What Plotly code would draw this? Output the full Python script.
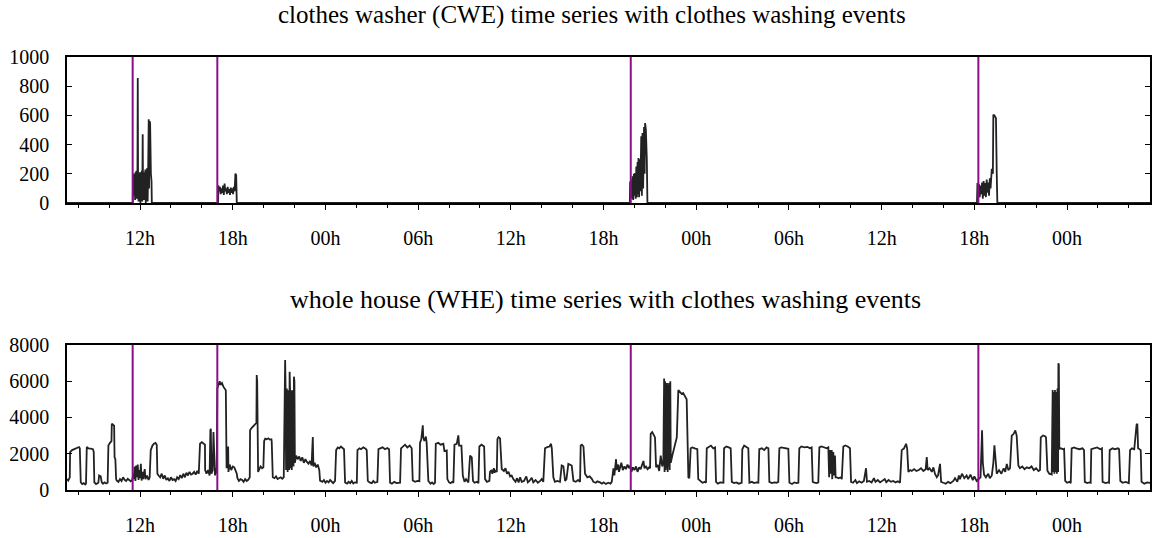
import pandas as pd
import plotly.graph_objects as go
from plotly.subplots import make_subplots

# Hours are counted from midnight of the first day shown.
START = pd.Timestamp("2012-04-01")

# clothes washing event start times (hours)
event_hours = [11.52, 17.0, 43.76, 66.26]

# clothes washer power (W): (hour, watts)
cwe_run1 = [
    (7.27, 0), (11.50, 0), (11.53, 0), (11.54, 200), (11.57, 180), (11.60, 50),
    (11.62, 200), (11.65, 190), (11.68, 20), (11.70, 210), (11.73, 60), (11.76, 220),
    (11.80, 30), (11.83, 200), (11.85, 856), (11.87, 150), (11.90, 10), (11.93, 200),
    (11.96, 40), (11.99, 210), (12.02, 0), (12.05, 190), (12.08, 50), (12.11, 220),
    (12.14, 10), (12.17, 470), (12.19, 100), (12.22, 200), (12.25, 20), (12.28, 210),
    (12.31, 40), (12.34, 230), (12.37, 0), (12.40, 220), (12.43, 30), (12.46, 240),
    (12.49, 10), (12.52, 200), (12.56, 574), (12.58, 100), (12.62, 560), (12.65, 546),
    (12.70, 200), (12.74, 150), (12.76, 0),
]
cwe_run2 = [
    (17.05, 0), (17.07, 120), (17.12, 80), (17.17, 110), (17.22, 60), (17.27, 100),
    (17.32, 70), (17.37, 120), (17.42, 55), (17.47, 133), (17.52, 80), (17.57, 100),
    (17.62, 60), (17.67, 110), (17.72, 70), (17.77, 95), (17.82, 55), (17.87, 105),
    (17.92, 70), (17.97, 100), (18.02, 60), (18.07, 110), (18.12, 80), (18.17, 202),
    (18.22, 190), (18.26, 0),
]
cwe_run3 = [
    (43.70, 0), (43.72, 148), (43.76, 40), (43.80, 160), (43.84, 30), (43.88, 183),
    (43.92, 20), (43.96, 200), (44.00, 50), (44.04, 205), (44.08, 30), (44.12, 250),
    (44.16, 40), (44.20, 280), (44.24, 60), (44.26, 308), (44.30, 40), (44.34, 300),
    (44.38, 80), (44.44, 457), (44.48, 50), (44.52, 479), (44.56, 100), (44.62, 520),
    (44.66, 200), (44.69, 548), (44.74, 500), (44.80, 300), (44.84, 0),
]
cwe_run4 = [
    (66.17, 0), (66.20, 137), (66.25, 100), (66.30, 130), (66.35, 40), (66.40, 120),
    (66.45, 60), (66.50, 140), (66.55, 30), (66.60, 150), (66.65, 50), (66.70, 137),
    (66.75, 40), (66.80, 160), (66.85, 70), (66.90, 140), (66.95, 50), (67.00, 170),
    (67.05, 100), (67.13, 235), (67.20, 200), (67.23, 605), (67.30, 600), (67.40, 580),
    (67.45, 200), (67.49, 0), (77.37, 0),
]

# whole house power (W): (hour, watts)
whe_day1 = [
    (7.27, 600), (7.35, 520), (7.45, 700), (7.47, 2090), (7.60, 2200), (7.75, 2250),
    (7.90, 2300), (8.05, 2370), (8.10, 2300), (8.16, 430), (8.25, 330), (8.35, 380),
    (8.45, 300), (8.50, 350), (8.55, 2370), (8.65, 2300), (8.80, 2280), (8.95, 2250),
    (9.00, 2100), (9.04, 420), (9.15, 330), (9.25, 380), (9.30, 400), (9.35, 800),
    (9.45, 750), (9.52, 420), (9.60, 350), (9.70, 420), (9.80, 360), (9.90, 400),
    (9.95, 2450), (10.05, 2600), (10.15, 2700), (10.17, 3660), (10.25, 3600), (10.32, 3550),
    (10.35, 1800), (10.40, 1700), (10.45, 600), (10.49, 520), (10.60, 450), (10.70, 600),
    (10.80, 500), (10.90, 700), (11.00, 560), (11.10, 500), (11.20, 620), (11.30, 540),
    (11.40, 480), (11.50, 560), (11.55, 900), (11.60, 600), (11.65, 1300), (11.70, 500),
    (11.75, 1350), (11.80, 700), (11.85, 1400), (11.90, 550), (11.95, 1100), (12.00, 650),
    (12.05, 1450), (12.10, 520), (12.15, 1000), (12.20, 600), (12.30, 1150), (12.35, 600),
    (12.45, 800), (12.55, 550), (12.62, 700), (12.69, 2200), (12.80, 2450), (12.90, 2550),
    (13.00, 2600), (13.08, 2500), (13.12, 900), (13.20, 800), (13.30, 700), (13.40, 900),
    (13.50, 620), (13.60, 800), (13.70, 550), (13.80, 650), (13.90, 500), (14.00, 700),
    (14.10, 550), (14.20, 600), (14.30, 500), (14.40, 700), (14.50, 600), (14.60, 820),
    (14.70, 650), (14.80, 900), (14.90, 700), (15.00, 950), (15.10, 800), (15.20, 1000),
    (15.30, 850), (15.40, 900), (15.50, 1000), (15.60, 850), (15.70, 1050), (15.80, 900),
    (15.88, 2550), (16.00, 2640), (16.10, 2550), (16.20, 2500), (16.21, 1100), (16.30, 900),
    (16.40, 1100), (16.50, 800), (16.55, 3300), (16.58, 3380), (16.62, 900), (16.70, 1100),
    (16.75, 3200), (16.80, 1000), (16.85, 800), (16.90, 1200), (16.96, 900), (17.00, 5600),
    (17.10, 5900), (17.15, 6000), (17.20, 5800), (17.30, 5900), (17.39, 5700), (17.50, 5550),
    (17.55, 5500), (17.60, 1200), (17.65, 1800), (17.70, 2400), (17.72, 1000), (17.80, 1400),
    (17.90, 1100), (18.00, 1300), (18.10, 1250), (18.20, 1050), (18.26, 900), (18.30, 650),
    (18.40, 500), (18.50, 600), (18.60, 550), (18.70, 450), (18.80, 600), (18.90, 500),
    (19.00, 560), (19.10, 700), (19.12, 3300), (19.20, 3400), (19.30, 3500), (19.44, 3600),
    (19.53, 3700), (19.55, 6340), (19.58, 6000), (19.64, 1000), (19.70, 1150), (19.80, 1300),
    (19.90, 1200), (19.98, 1250), (20.03, 2700), (20.10, 2830), (20.20, 2800), (20.30, 2850),
    (20.40, 2780), (20.50, 2800), (20.52, 2700), (20.59, 700), (20.70, 650), (20.80, 750),
    (20.90, 600), (21.00, 650), (21.10, 700), (21.20, 620), (21.30, 700), (21.39, 7170),
    (21.42, 5500), (21.45, 1100), (21.48, 5500), (21.50, 5600), (21.55, 1000), (21.58, 5500),
    (21.62, 5400), (21.65, 1100), (21.68, 6520), (21.71, 5500), (21.74, 1200), (21.78, 5500),
    (21.82, 1100), (21.85, 5500), (21.90, 5400), (21.93, 1300), (21.96, 6250), (21.99, 6000),
    (22.02, 1500), (22.10, 1900), (22.20, 1700), (22.30, 1850), (22.40, 1600), (22.50, 1800),
    (22.60, 1500), (22.70, 1700), (22.80, 1550), (22.90, 1450), (23.00, 1600), (23.10, 1350),
    (23.18, 2920), (23.22, 1300), (23.30, 1500), (23.40, 1250), (23.50, 1400), (23.60, 1100),
    (23.65, 520), (23.80, 450), (23.90, 550),
]
whe_day2 = [
    (24.00, 400), (24.10, 500), (24.20, 420), (24.30, 550), (24.40, 450), (24.50, 380),
    (24.62, 500), (24.69, 2200), (24.80, 2350), (24.90, 2300), (25.00, 2400), (25.10, 2300),
    (25.20, 2250), (25.27, 420), (25.40, 350), (25.50, 450), (25.60, 380), (25.70, 500),
    (25.80, 360), (25.90, 420), (26.03, 400), (26.07, 2200), (26.20, 2300), (26.30, 2250),
    (26.45, 2350), (26.60, 2280), (26.67, 2200), (26.74, 500), (26.85, 420), (27.00, 380),
    (27.10, 500), (27.20, 400), (27.36, 450), (27.43, 2250), (27.55, 2300), (27.70, 2350),
    (27.85, 2250), (28.00, 2320), (28.12, 2250), (28.18, 400), (28.30, 350), (28.45, 450),
    (28.60, 380), (28.75, 420), (28.83, 400), (28.89, 2300), (29.00, 2400), (29.15, 2500),
    (29.30, 2350), (29.45, 2450), (29.58, 2300), (29.65, 520), (29.80, 450), (29.95, 500),
    (30.08, 480), (30.12, 2600), (30.20, 2800), (30.30, 3570), (30.33, 2900), (30.40, 2700),
    (30.50, 2950), (30.55, 2600), (30.66, 500), (30.80, 350), (30.90, 420), (31.00, 330),
    (31.09, 400), (31.14, 2550), (31.30, 2600), (31.45, 2500), (31.63, 2550), (31.70, 2150),
    (31.85, 2180), (31.89, 600), (32.00, 420), (32.10, 380), (32.20, 450), (32.28, 400),
    (32.35, 2500), (32.50, 2550), (32.60, 3010), (32.65, 2450), (32.80, 2450), (32.89, 800),
    (33.00, 450), (33.10, 600), (33.25, 420), (33.30, 1500), (33.36, 1900), (33.47, 1800),
    (33.55, 500), (33.65, 400), (33.80, 450), (33.90, 380), (33.96, 2400), (34.10, 2500),
    (34.20, 2450), (34.27, 2400), (34.33, 600), (34.45, 450), (34.61, 500), (34.65, 1000),
    (34.75, 1100), (34.80, 900), (34.90, 1200), (34.95, 950), (35.00, 1100), (35.09, 1000),
    (35.13, 2800), (35.20, 2920), (35.30, 2850), (35.41, 1160), (35.55, 1050), (35.65, 1200),
    (35.75, 900), (35.85, 1000), (35.95, 750), (36.05, 800), (36.16, 600), (36.30, 450),
    (36.40, 650), (36.50, 420), (36.60, 700), (36.70, 450), (36.85, 500), (37.00, 750),
    (37.10, 420), (37.20, 500), (37.35, 680), (37.45, 420), (37.60, 550), (37.75, 400),
    (37.90, 500), (38.00, 600), (38.10, 450), (38.21, 2300), (38.35, 2365), (38.50, 2400),
    (38.60, 2550), (38.65, 2300), (38.75, 700), (38.85, 450), (39.00, 500), (39.18, 450),
    (39.29, 1350), (39.40, 1300), (39.51, 500), (39.60, 600), (39.72, 1440), (39.85, 1400),
    (39.94, 1350), (40.05, 500), (40.20, 450), (40.35, 550), (40.48, 450), (40.52, 2460),
    (40.60, 2500), (40.70, 2400), (40.80, 900), (40.95, 700), (41.10, 750), (41.25, 600),
    (41.34, 450), (41.50, 400), (41.60, 480), (41.77, 420), (41.90, 350), (42.00, 420),
    (42.15, 330), (42.30, 400), (42.45, 350), (42.53, 450), (42.60, 900), (42.64, 1200),
    (42.70, 800), (42.81, 1700), (42.85, 1100), (42.95, 1400), (43.00, 1000), (43.07, 1250),
    (43.15, 1500), (43.25, 1100), (43.35, 1300), (43.45, 1150), (43.55, 1400), (43.65, 1200),
    (43.72, 1350), (43.80, 1000), (43.90, 1250), (44.00, 1100), (44.10, 1300), (44.20, 1000),
    (44.30, 1250), (44.40, 1150), (44.50, 1350), (44.58, 1600), (44.65, 1200), (44.75, 1300),
    (44.85, 1150), (44.95, 1250), (45.01, 1200), (45.05, 3100), (45.15, 3200), (45.25, 3000),
    (45.33, 2900), (45.40, 1250), (45.50, 1400), (45.60, 1050), (45.70, 1900), (45.80, 1300),
    (45.87, 1500), (45.92, 6150), (45.95, 1000), (45.98, 6000), (46.02, 1100), (46.05, 5900),
    (46.09, 1200), (46.12, 5900), (46.15, 1000), (46.18, 5800), (46.22, 1300), (46.25, 5900),
    (46.28, 1100), (46.32, 6000), (46.35, 1500), (46.45, 1900), (46.55, 2300), (46.65, 2600),
    (46.74, 2900), (46.84, 5510), (46.95, 5400), (47.05, 5300), (47.15, 5350), (47.25, 5200),
    (47.38, 5000), (47.49, 700), (47.55, 650), (47.64, 2300), (47.75, 2350), (47.90, 2300),
]
whe_day3 = [
    (48.07, 2250), (48.13, 600), (48.25, 500), (48.40, 400), (48.55, 450), (48.63, 400),
    (48.68, 2300), (48.80, 2350), (48.95, 2450), (49.10, 2300), (49.22, 2350), (49.28, 450),
    (49.40, 350), (49.55, 420), (49.70, 380), (49.76, 400), (49.80, 2300), (49.95, 2400),
    (50.10, 2350), (50.23, 2300), (50.30, 450), (50.45, 380), (50.60, 420), (50.75, 350),
    (50.94, 400), (50.98, 2250), (51.10, 2450), (51.25, 2350), (51.37, 2300), (51.44, 400),
    (51.60, 450), (51.75, 380), (51.90, 420), (52.02, 400), (52.08, 2250), (52.25, 2300),
    (52.40, 2200), (52.55, 2350), (52.67, 2300), (52.73, 450), (52.90, 380), (53.05, 420),
    (53.20, 400), (53.31, 450), (53.38, 2300), (53.50, 2350), (53.70, 2300), (53.90, 2250),
    (53.96, 2270), (54.03, 400), (54.20, 330), (54.35, 420), (54.50, 380), (54.61, 400),
    (54.67, 2300), (54.80, 2400), (55.00, 2350), (55.20, 2380), (55.35, 2300), (55.47, 2350),
    (55.54, 450), (55.65, 400), (55.80, 380), (55.90, 420), (55.97, 2350), (56.10, 2400),
    (56.30, 2350), (56.45, 2300), (56.55, 2350), (56.60, 700), (56.66, 2200), (56.70, 900),
    (56.77, 2200), (56.80, 600), (56.87, 2100), (56.92, 800), (56.98, 1900), (57.02, 700),
    (57.09, 700), (57.20, 650), (57.35, 700), (57.42, 600), (57.52, 2400), (57.65, 2460),
    (57.80, 2400), (57.95, 2300), (58.02, 450), (58.15, 400), (58.30, 550), (58.40, 380),
    (58.55, 480), (58.70, 400), (58.85, 500), (58.99, 1200), (59.05, 450), (59.20, 500),
    (59.35, 420), (59.50, 650), (59.60, 450), (59.75, 550), (59.90, 420), (60.05, 500),
    (60.20, 600), (60.30, 430), (60.45, 550), (60.60, 450), (60.75, 500), (60.90, 420),
    (61.05, 480), (61.19, 400), (61.30, 2200), (61.45, 2300), (61.58, 2550), (61.65, 2300),
    (61.73, 1000), (61.85, 1100), (61.95, 1050), (62.10, 1150), (62.25, 1050), (62.40, 1100),
    (62.55, 1200), (62.70, 1050), (62.85, 1150), (62.92, 1810), (62.98, 1100), (63.10, 1200),
    (63.25, 1000), (63.35, 1250), (63.45, 900), (63.57, 700), (63.65, 800), (63.78, 1440),
    (63.85, 450), (63.99, 400), (64.15, 350), (64.30, 450), (64.45, 380), (64.64, 500),
    (64.75, 650), (64.90, 450), (65.00, 800), (65.07, 600), (65.20, 900), (65.35, 650),
    (65.50, 800), (65.60, 600), (65.75, 850), (65.90, 550), (66.00, 750), (66.15, 500),
    (66.26, 600), (66.40, 700), (66.50, 3290), (66.55, 1500), (66.63, 850), (66.75, 700),
    (66.90, 900), (67.00, 650), (67.13, 800), (67.23, 1500), (67.30, 2460), (67.38, 1800),
    (67.45, 900), (67.60, 1100), (67.75, 900), (67.90, 1200), (68.00, 1000), (68.10, 1440),
    (68.20, 1100), (68.31, 1200), (68.42, 3000), (68.55, 3100), (68.65, 3290), (68.74, 3000),
    (68.85, 1350), (68.95, 1200), (69.10, 1300), (69.25, 1150), (69.40, 1250), (69.55, 1200),
    (69.70, 1300), (69.85, 1100), (70.00, 1200), (70.15, 1050), (70.25, 1100), (70.30, 2900),
    (70.45, 3010), (70.60, 2950), (70.64, 2900), (70.73, 1070), (70.85, 900), (71.01, 850),
    (71.07, 5510), (71.10, 1000), (71.14, 5400), (71.18, 900), (71.22, 5510), (71.26, 1000),
    (71.30, 5400), (71.34, 900), (71.38, 5600), (71.42, 1000), (71.44, 6990), (71.47, 6900),
    (71.50, 2270), (71.60, 2300), (71.75, 2250), (71.81, 2270), (71.88, 500),
]
whe_day4 = [
    (72.00, 400), (72.15, 450), (72.24, 380), (72.30, 2300), (72.45, 2350), (72.60, 2300),
    (72.80, 2250), (73.00, 2300), (73.10, 2200), (73.15, 450), (73.30, 380), (73.45, 420),
    (73.53, 400), (73.57, 2250), (73.75, 2300), (73.95, 2350), (74.15, 2250), (74.26, 2300),
    (74.30, 450), (74.50, 380), (74.65, 420), (74.72, 400), (74.76, 2200), (74.95, 2300),
    (75.10, 2250), (75.30, 2300), (75.37, 2250), (75.45, 500), (75.60, 400), (75.80, 450),
    (76.00, 380), (76.08, 2200), (76.20, 2300), (76.35, 2250), (76.50, 3600), (76.55, 3660),
    (76.60, 2300), (76.77, 2200), (76.82, 450), (77.00, 350), (77.20, 420), (77.42, 380),
]

x_range_hours = [7.27, 77.37]
cwe_ticks = [0, 200, 400, 600, 800, 1000]
whe_ticks = [0, 2000, 4000, 6000, 8000]
titles = [
    "clothes washer (CWE) time series with clothes washing events",
    "whole house (WHE) time series with clothes washing events",
]


def at(hours):
    return START + pd.to_timedelta(hours, unit="h")


def split(points):
    hrs = [p[0] for p in points]
    vals = [p[1] for p in points]
    return at(pd.Series(hrs)), vals


cwe_t, cwe_w = split(cwe_run1 + cwe_run2 + cwe_run3 + cwe_run4)
whe_t, whe_w = split(whe_day1 + whe_day2 + whe_day3 + whe_day4)

FONT = "Liberation Serif"
LINE = "#222222"
PURPLE = "#8b0f8b"

fig = make_subplots(rows=2, cols=1)

fig.add_trace(go.Scatter(x=cwe_t, y=cwe_w, mode="lines",
                         line=dict(color=LINE, width=1.8), showlegend=False), row=1, col=1)
fig.add_trace(go.Scatter(x=whe_t, y=whe_w, mode="lines",
                         line=dict(color=LINE, width=1.8), showlegend=False), row=2, col=1)

for row in (1, 2):
    for h in event_hours:
        fig.add_vline(x=at(h), line=dict(color=PURPLE, width=2), layer="above",
                      row=row, col=1)

xaxis_style = dict(
    type="date",
    range=[at(x_range_hours[0]), at(x_range_hours[1])],
    tick0=START, dtick=6 * 3600 * 1000, tickformat="%Hh",
    ticks="outside", ticklen=5, tickwidth=1, tickcolor="black",
    minor=dict(dtick=2 * 3600 * 1000, ticks="outside", ticklen=3, tickcolor="black"),
    showline=True, linecolor="black", linewidth=1.5, mirror=True,
    showgrid=False, zeroline=False, automargin=False,
    tickfont=dict(family=FONT, size=20, color="black"),
    ticklabelstandoff=11,
)
fig.update_xaxes(**xaxis_style)

yaxis_style = dict(
    ticks="inside", ticklen=5, tickwidth=1, tickcolor="black",
    showline=True, linecolor="black", linewidth=1.5, mirror="allticks",
    showgrid=False, zeroline=False, automargin=False,
    tickfont=dict(family=FONT, size=20, color="black"),
    ticklabelstandoff=12,
)
fig.update_yaxes(**yaxis_style)
fig.update_yaxes(range=[0, 1000], tickvals=cwe_ticks, domain=[0.6628, 1.0], row=1, col=1)
fig.update_yaxes(range=[0, 8000], tickvals=whe_ticks, domain=[0.0, 0.3349], row=2, col=1)

fig.add_annotation(text=titles[0], xref="paper", yref="paper", x=0.485, y=1.0,
                   yshift=42, showarrow=False, xanchor="center", yanchor="middle",
                   font=dict(family=FONT, size=25, color="black"))
fig.add_annotation(text=titles[1], xref="paper", yref="paper", x=0.497, y=0.3349,
                   yshift=45, showarrow=False, xanchor="center", yanchor="middle",
                   font=dict(family=FONT, size=26, color="black"))

fig.update_layout(
    width=1154, height=538,
    margin=dict(l=67, r=4, t=57, b=48),
    paper_bgcolor="white", plot_bgcolor="white",
    showlegend=False,
)

fig.write_html("out.html")
